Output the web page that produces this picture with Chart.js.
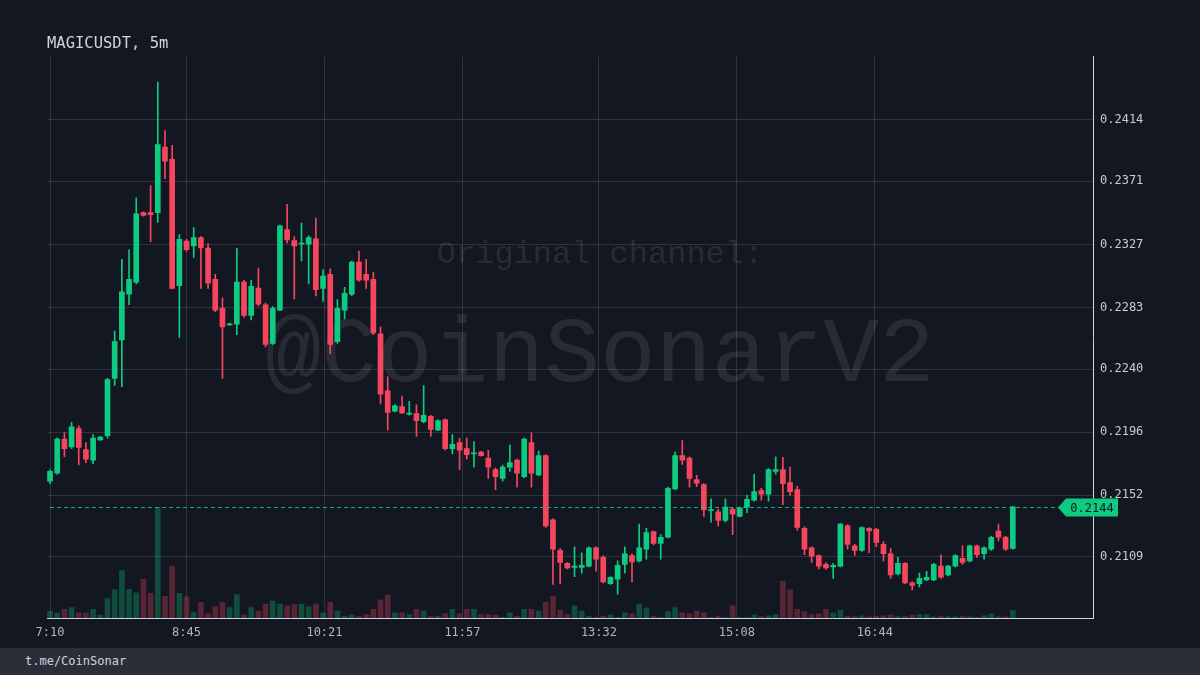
<!DOCTYPE html>
<html>
<head>
<meta charset="utf-8">
<script src="https://cdn.jsdelivr.net/npm/chart.js@4.4.1/dist/chart.umd.min.js"></script>
<style>
  html, body { margin: 0; padding: 0; background: #131722; }
  #wrap { width: 1200px; height: 648px; position: relative; }
  #footer {
    width: 1200px; height: 27px; box-sizing: border-box; padding-left: 25px;
    background: #2a2e39; color: #d1d4dc;
    font: 12px "DejaVu Sans Mono", monospace;
    line-height: 27px;
  }
</style>
</head>
<body>
<div id="wrap"><canvas id="chart"></canvas></div>
<div id="footer">t.me/CoinSonar</div>
<script>
// ---- data ----
const symbolTitle = "MAGICUSDT, 5m";
const intervalMin = 5;

const opens = [
  0.21618, 0.21674, 0.21912, 0.21858, 0.21985, 0.21838, 0.21765, 0.21907, 0.21936, 0.22335,
  0.22604, 0.22922, 0.23007, 0.23492, 0.23492, 0.23492, 0.23949, 0.23864, 0.22983, 0.23294,
  0.23259, 0.23318, 0.23245, 0.23027, 0.22824, 0.22709, 0.22714, 0.23007, 0.22775, 0.22966,
  0.22849, 0.22579, 0.22812, 0.23374, 0.23296, 0.23272, 0.23272, 0.23308, 0.22963, 0.23061,
  0.22592, 0.22812, 0.22922, 0.23147, 0.23061, 0.23027, 0.22646, 0.22249, 0.22107, 0.22139,
  0.22085, 0.22090, 0.22034, 0.22071, 0.21975, 0.22046, 0.21846, 0.21887, 0.21846, 0.21809,
  0.21822, 0.21780, 0.21699, 0.21638, 0.21716, 0.21765, 0.21650, 0.21887, 0.21662, 0.21797,
  0.21349, 0.21136, 0.21046, 0.21017, 0.21017, 0.21026, 0.21153, 0.21087, 0.20904, 0.20934,
  0.21038, 0.21100, 0.21063, 0.21144, 0.21266, 0.21185, 0.21227, 0.21564, 0.21797, 0.21780,
  0.21630, 0.21594, 0.21413, 0.21405, 0.21344, 0.21423, 0.21373, 0.21437, 0.21486, 0.21552,
  0.21528, 0.21687, 0.21699, 0.21609, 0.21560, 0.21290, 0.21153, 0.21100, 0.21038, 0.21021,
  0.21026, 0.21307, 0.21168, 0.21136, 0.21290, 0.21283, 0.21178, 0.21112, 0.20972, 0.21046,
  0.20909, 0.20904, 0.20929, 0.20929, 0.21026, 0.20965, 0.21026, 0.21080, 0.21063, 0.21168,
  0.21112, 0.21144, 0.21271, 0.21227, 0.21149
];
const highs = [
  0.21698, 0.21921, 0.21956, 0.22029, 0.22005, 0.21887, 0.21944, 0.21931, 0.22335, 0.22665,
  0.23166, 0.23233, 0.23594, 0.23497, 0.23680, 0.24402, 0.24064, 0.23961, 0.23338, 0.23306,
  0.23387, 0.23325, 0.23276, 0.23061, 0.22897, 0.22721, 0.23245, 0.23020, 0.23020, 0.23105,
  0.22861, 0.22836, 0.23404, 0.23550, 0.23325, 0.23418, 0.23330, 0.23453, 0.23093, 0.23100,
  0.22885, 0.22971, 0.23154, 0.23223, 0.23166, 0.23076, 0.22694, 0.22347, 0.22151, 0.22212,
  0.22176, 0.22151, 0.22286, 0.22078, 0.22046, 0.22054, 0.21944, 0.21919, 0.21919, 0.21894,
  0.21826, 0.21834, 0.21711, 0.21731, 0.21870, 0.21772, 0.21919, 0.21956, 0.21829, 0.21804,
  0.21356, 0.21149, 0.21051, 0.21161, 0.21119, 0.21161, 0.21161, 0.21100, 0.20953, 0.21063,
  0.21161, 0.21112, 0.21320, 0.21290, 0.21271, 0.21246, 0.21577, 0.21822, 0.21902, 0.21789,
  0.21660, 0.21601, 0.21496, 0.21423, 0.21496, 0.21430, 0.21437, 0.21520, 0.21667, 0.21569,
  0.21706, 0.21789, 0.21785, 0.21716, 0.21584, 0.21300, 0.21161, 0.21105, 0.21051, 0.21046,
  0.21325, 0.21315, 0.21178, 0.21300, 0.21295, 0.21290, 0.21197, 0.21149, 0.21087, 0.21051,
  0.20916, 0.20977, 0.20990, 0.21046, 0.21105, 0.21031, 0.21105, 0.21168, 0.21173, 0.21173,
  0.21161, 0.21234, 0.21320, 0.21234, 0.21442
];
const lows = [
  0.21601, 0.21667, 0.21789, 0.21846, 0.21731, 0.21748, 0.21740, 0.21902, 0.21919, 0.22286,
  0.22278, 0.22849, 0.22995, 0.23467, 0.23289, 0.23423, 0.23729, 0.22959, 0.22621, 0.23223,
  0.23179, 0.22963, 0.22963, 0.22800, 0.22335, 0.22704, 0.22641, 0.22763, 0.22743, 0.22841,
  0.22555, 0.22572, 0.22807, 0.23281, 0.22890, 0.23154, 0.22995, 0.22910, 0.22873, 0.22506,
  0.22579, 0.22751, 0.22910, 0.23013, 0.22963, 0.22641, 0.22157, 0.21975, 0.22102, 0.22090,
  0.22078, 0.21931, 0.22024, 0.21931, 0.21970, 0.21834, 0.21809, 0.21699, 0.21772, 0.21716,
  0.21792, 0.21638, 0.21560, 0.21618, 0.21687, 0.21577, 0.21643, 0.21577, 0.21657, 0.21295,
  0.20899, 0.20904, 0.21007, 0.20953, 0.20977, 0.21021, 0.20990, 0.20909, 0.20899, 0.20830,
  0.20977, 0.20916, 0.21056, 0.21075, 0.21173, 0.21075, 0.21222, 0.21560, 0.21736, 0.21577,
  0.21580, 0.21373, 0.21332, 0.21307, 0.21332, 0.21246, 0.21369, 0.21398, 0.21479, 0.21486,
  0.21479, 0.21667, 0.21455, 0.21520, 0.21276, 0.21105, 0.21051, 0.21007, 0.21002, 0.20940,
  0.21021, 0.21144, 0.21100, 0.21129, 0.21119, 0.21161, 0.21063, 0.20940, 0.20965, 0.20904,
  0.20860, 0.20880, 0.20924, 0.20924, 0.20940, 0.20958, 0.21021, 0.21038, 0.21056, 0.21087,
  0.21075, 0.21136, 0.21202, 0.21136, 0.21144
];
const closes = [
  0.21687, 0.21912, 0.21846, 0.21997, 0.21853, 0.21772, 0.21919, 0.21926, 0.22327, 0.22592,
  0.22939, 0.23027, 0.23484, 0.23472, 0.23477, 0.23966, 0.23851, 0.22963, 0.23306, 0.23233,
  0.23318, 0.23245, 0.23000, 0.22812, 0.22694, 0.22716, 0.23007, 0.22775, 0.22978, 0.22853,
  0.22572, 0.22824, 0.23399, 0.23301, 0.23259, 0.23276, 0.23318, 0.22954, 0.23049, 0.22572,
  0.22824, 0.22929, 0.23147, 0.23020, 0.23020, 0.22653, 0.22225, 0.22098, 0.22144, 0.22095,
  0.22093, 0.22041, 0.22078, 0.21980, 0.22041, 0.21846, 0.21875, 0.21834, 0.21804, 0.21817,
  0.21797, 0.21716, 0.21650, 0.21716, 0.21748, 0.21674, 0.21912, 0.21674, 0.21797, 0.21307,
  0.21144, 0.21051, 0.21014, 0.21026, 0.21031, 0.21153, 0.21075, 0.20916, 0.20948, 0.21031,
  0.21112, 0.21056, 0.21153, 0.21259, 0.21185, 0.21227, 0.21569, 0.21797, 0.21765, 0.21638,
  0.21605, 0.21418, 0.21420, 0.21344, 0.21437, 0.21388, 0.21430, 0.21491, 0.21545, 0.21528,
  0.21699, 0.21699, 0.21601, 0.21545, 0.21295, 0.21144, 0.21095, 0.21026, 0.21014, 0.21031,
  0.21320, 0.21178, 0.21136, 0.21295, 0.21271, 0.21192, 0.21112, 0.20965, 0.21046, 0.20909,
  0.20892, 0.20940, 0.20948, 0.21038, 0.20948, 0.21026, 0.21100, 0.21051, 0.21168, 0.21105,
  0.21153, 0.21227, 0.21227, 0.21144, 0.21440
];
// volume in thousands
const volumes = [
  20, 15, 25, 30, 15, 15, 25, 8, 55, 80,
  135, 82, 72, 110, 70, 315, 62, 148, 70, 60,
  17, 45, 12, 32, 45, 30, 67, 8, 30, 20,
  40, 48, 40, 35, 38, 40, 32, 40, 15, 45,
  20, 5, 8, 5, 10, 25, 52, 65, 15, 15,
  10, 25, 20, 5, 5, 12, 25, 12, 25, 25,
  10, 10, 8, 2, 15, 5, 25, 25, 20, 45,
  62, 22, 10, 35, 20, 5, 2, 5, 8, 2,
  15, 12, 40, 28, 5, 2, 18, 30, 15, 12,
  20, 15, 2, 5, 2, 35, 2, 2, 8, 4,
  6, 10, 105, 80, 25, 18, 10, 12, 25, 15,
  22, 5, 4, 6, 3, 5, 6, 8, 4, 5,
  8, 10, 10, 3, 5, 4, 3, 5, 3, 2,
  6, 12, 4, 3, 22
];

const xTickMinutes = [0, 95, 191, 287, 382, 478, 574];
const xTickLabels = ["7:10", "8:45", "10:21", "11:57", "13:32", "15:08", "16:44"];
const priceTicks = [0.2109, 0.2152, 0.2196, 0.2240, 0.2283, 0.2327, 0.2371, 0.2414];
const lastPrice = 0.2144;

// ---- styling ----
const UP = "#0ecb81";
const DOWN = "#f6465d";
const UP_VOL = "rgba(14,203,129,0.3)";
const DOWN_VOL = "rgba(246,70,93,0.3)";
const GRID = "rgba(255,255,255,0.12)";
const MONO = "'DejaVu Sans Mono', monospace";

const minutes = opens.map((_, i) => i * intervalMin);
const isUp = opens.map((o, i) => closes[i] >= o);
const candleColors = isUp.map((u) => (u ? UP : DOWN));
const volumeColors = isUp.map((u) => (u ? UP_VOL : DOWN_VOL));

// watermark behind the candles
const watermark = {
  id: "watermark",
  beforeDatasetsDraw(chart) {
    const { ctx, chartArea } = chart;
    const cx = chart.width / 2;
    ctx.save();
    ctx.textAlign = "center";
    ctx.textBaseline = "middle";
    ctx.fillStyle = "rgba(255,255,255,0.09)";
    ctx.font = "32px 'Liberation Mono', monospace";
    ctx.fillText("Original channel:", cx, chartArea.top + 198);
    ctx.font = "93px 'Liberation Mono', monospace";
    ctx.fillText("@CoinSonarV2", cx, chartArea.top + 300);
    ctx.restore();
  },
};

// dashed last-price line + price tag on the axis
const priceLine = {
  id: "priceLine",
  afterDatasetsDraw(chart) {
    const { ctx, chartArea } = chart;
    const y = Math.round(chart.scales.y.getPixelForValue(lastPrice)) + 0.5;
    const tip = chartArea.right - 35;
    const boxL = chartArea.right - 27;
    const boxR = chartArea.right + 25;
    ctx.save();
    ctx.strokeStyle = "rgba(14,203,129,0.85)";
    ctx.lineWidth = 1;
    ctx.setLineDash([4, 3]);
    ctx.beginPath();
    ctx.moveTo(chart.scales.x.getPixelForValue(0), y);
    ctx.lineTo(tip, y);
    ctx.stroke();
    ctx.setLineDash([]);

    ctx.fillStyle = UP;
    ctx.beginPath();
    ctx.moveTo(tip, y);
    ctx.lineTo(boxL, y - 9);
    ctx.lineTo(boxR, y - 9);
    ctx.lineTo(boxR, y + 9);
    ctx.lineTo(boxL, y + 9);
    ctx.closePath();
    ctx.fill();

    ctx.fillStyle = "#131722";
    ctx.font = "12px " + MONO;
    ctx.textAlign = "center";
    ctx.textBaseline = "middle";
    ctx.fillText(lastPrice.toFixed(4), (boxL + boxR) / 2, y + 1);
    ctx.restore();
  },
};

new Chart(document.getElementById("chart"), {
  type: "bar",
  data: {
    datasets: [
      {
        label: "body",
        data: minutes.map((m, i) => ({ x: m, y: [opens[i], closes[i]] })),
        backgroundColor: candleColors,
        barThickness: 5,
        minBarLength: 1,
        grouped: false,
        order: 0,
      },
      {
        label: "wick",
        data: minutes.map((m, i) => ({ x: m, y: [lows[i], highs[i]] })),
        backgroundColor: candleColors,
        barThickness: 1,
        grouped: false,
        order: 1,
      },
      {
        label: "volume",
        data: minutes.map((m, i) => ({ x: m, y: volumes[i] })),
        backgroundColor: volumeColors,
        barThickness: 5,
        grouped: false,
        yAxisID: "yv",
        order: 2,
      },
    ],
  },
  options: {
    responsive: true,
    maintainAspectRatio: false,
    animation: false,
    layout: { padding: { left: 47, right: 0, top: 0, bottom: 0 } },
    plugins: {
      legend: { display: false },
      tooltip: { enabled: false },
      title: {
        display: true,
        text: symbolTitle,
        align: "start",
        color: "#d1d4dc",
        font: { family: MONO, size: 15.5, weight: "normal" },
        padding: { top: 35, bottom: 3 },
      },
    },
    scales: {
      x: {
        type: "linear",
        min: -2.1,
        max: 725.8,
        offset: false,
        afterBuildTicks: (scale) => {
          scale.ticks = xTickMinutes.map((v) => ({ value: v }));
        },
        afterFit: (scale) => {
          scale.height = 30;
        },
        grid: { color: GRID, drawTicks: false, offset: false },
        border: { color: "#d1d4dc" },
        ticks: {
          autoSkip: false,
          maxRotation: 0,
          padding: 8,
          color: "#b2b5be",
          font: { family: MONO, size: 12 },
          callback: (v, i) => xTickLabels[i],
        },
      },
      y: {
        position: "right",
        min: 0.20664,
        max: 0.2458,
        afterBuildTicks: (scale) => {
          scale.ticks = priceTicks.map((v) => ({ value: v }));
        },
        afterFit: (scale) => {
          scale.width = 107;
        },
        grid: { color: GRID, drawTicks: false },
        border: { color: "#d1d4dc" },
        ticks: {
          padding: 7,
          color: "#c8cbd3",
          font: { family: MONO, size: 12 },
          callback: (v) => Number(v).toFixed(4),
        },
      },
      yv: {
        display: false,
        min: 0,
        max: 1600,
      },
    },
  },
  plugins: [watermark, priceLine],
});
</script>
</body>
</html>
